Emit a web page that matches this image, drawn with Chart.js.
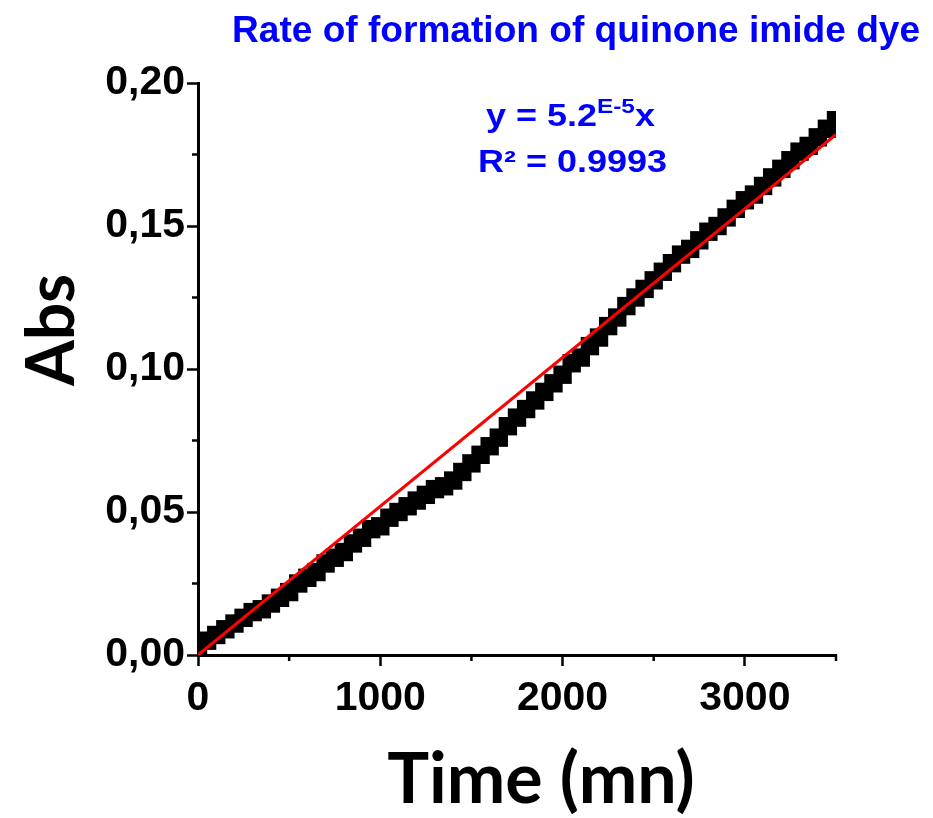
<!DOCTYPE html>
<html>
<head>
<meta charset="utf-8">
<script src="https://cdn.jsdelivr.net/npm/chart.js@4.4.0/dist/chart.umd.min.js"></script>
<style>
  html, body { margin: 0; padding: 0; background: #ffffff; }
  #wrap { width: 933px; height: 818px; }
</style>
</head>
<body>
<div id="wrap"><canvas id="c" width="933" height="818"></canvas></div>
<script>
// ---- data ----
const times = [0,50,100,150,200,250,300,350,400,450,500,550,600,650,700,750,800,850,900,950,
  1000,1050,1100,1150,1200,1250,1300,1350,1400,1450,1500,1550,1600,1650,1700,1750,1800,1850,1900,1950,
  2000,2050,2100,2150,2200,2250,2300,2350,2400,2450,2500,2550,2600,2650,2700,2750,2800,2850,2900,2950,
  3000,3050,3100,3150,3200,3250,3300,3350,3400,3450,3500];
const absorbance = [0.003,0.005,0.007,0.009,0.011,0.013,0.015,0.016,0.018,0.020,0.022,0.025,0.027,0.029,0.032,0.034,0.036,0.039,0.041,0.044,
  0.045,0.048,0.050,0.052,0.054,0.056,0.058,0.059,0.061,0.064,0.067,0.070,0.073,0.076,0.080,0.083,0.086,0.089,0.092,0.095,
  0.098,0.102,0.104,0.108,0.111,0.115,0.118,0.122,0.125,0.128,0.131,0.134,0.137,0.140,0.142,0.145,0.148,0.150,0.153,0.156,
  0.159,0.161,0.164,0.167,0.170,0.173,0.176,0.178,0.181,0.184,0.187];
const fitTimes = [0, 3500];
const fitAbs = [0, 0.182];

const xTickValues = [0, 1000, 2000, 3000];
const xTickLabels = ['0', '1000', '2000', '3000'];
const yTickValues = [0, 0.05, 0.10, 0.15, 0.20];
const yTickLabels = ['0,00', '0,05', '0,10', '0,15', '0,20'];
const xMinorTicks = [500, 1500, 2500, 3500];
const yMinorTicks = [0.025, 0.075, 0.125, 0.175];

const chartTitle = 'Rate of formation of quinone imide dye';
const xTitle = 'Time (mn)';
const yTitle = 'Abs';
const eqMain = 'y = 5.2';
const eqSup = 'E-5';
const eqTail = 'x';
const r2Text = 'R\u00B2 = 0.9993';

// ---- chart ----
const pts = times.map((t, i) => ({ x: t, y: absorbance[i] }));
const fitPts = fitTimes.map((t, i) => ({ x: t, y: fitAbs[i] }));

const BLUE = 'rgb(0,0,255)';
const ARIAL = '"Liberation Sans", Arial, sans-serif';

function drawScaled(ctx, text, x, y, sx, align) {
  ctx.save();
  ctx.translate(x, y);
  ctx.scale(sx, 1);
  ctx.textAlign = align || 'left';
  ctx.fillText(text, 0, 0);
  ctx.restore();
}

const extras = {
  id: 'extras',
  afterDraw(chart) {
    const ctx = chart.ctx;
    const a = chart.chartArea;
    const xs = chart.scales.x, ys = chart.scales.y;
    ctx.save();
    // minor ticks
    ctx.strokeStyle = '#000';
    ctx.lineWidth = 2.5;
    xMinorTicks.forEach(v => {
      const p = xs.getPixelForValue(v);
      ctx.beginPath(); ctx.moveTo(p, a.bottom); ctx.lineTo(p, a.bottom + 6); ctx.stroke();
    });
    yMinorTicks.forEach(v => {
      const p = ys.getPixelForValue(v);
      ctx.beginPath(); ctx.moveTo(a.left, p); ctx.lineTo(a.left - 6, p); ctx.stroke();
    });

    ctx.textBaseline = 'alphabetic';
    // title
    ctx.fillStyle = BLUE;
    ctx.font = 'bold 36px ' + ARIAL;
    drawScaled(ctx, chartTitle, 232, 42, 1.03, 'left');

    // equation
    const sx = 1.16;
    let x0 = 486;
    ctx.font = 'bold 31px ' + ARIAL;
    drawScaled(ctx, eqMain, x0, 126, sx, 'left');
    x0 += ctx.measureText(eqMain).width * sx;
    ctx.font = 'bold 21px ' + ARIAL;
    drawScaled(ctx, eqSup, x0, 113, sx, 'left');
    x0 += ctx.measureText(eqSup).width * sx;
    ctx.font = 'bold 31px ' + ARIAL;
    drawScaled(ctx, eqTail, x0, 126, sx, 'left');
    drawScaled(ctx, r2Text, 478, 172, sx, 'left');

    // axis titles
    ctx.fillStyle = '#000';
    ctx.font = 'bold 70px Lato, "Open Sans", sans-serif';
    ctx.textAlign = 'center';
    ctx.fillText(xTitle, 541, 803);
    ctx.save();
    ctx.translate(74, 330);
    ctx.rotate(-Math.PI / 2);
    ctx.font = 'bold 66px Lato, "Open Sans", sans-serif';
    ctx.textAlign = 'center';
    ctx.fillText(yTitle, 0, 0);
    ctx.restore();
    ctx.restore();
  }
};

const tickFont = { family: ARIAL, size: 41, weight: 'bold' };

new Chart(document.getElementById('c'), {
  type: 'scatter',
  data: {
    datasets: [
      {
        label: 'fit',
        data: fitPts,
        showLine: true,
        borderColor: 'rgb(255,0,0)',
        borderWidth: 3,
        pointRadius: 0,
        order: 0,
        clip: 0
      },
      {
        label: 'Abs',
        data: pts,
        pointStyle: 'rect',
        pointRadius: 13,
        pointBorderWidth: 0,
        backgroundColor: '#000',
        borderColor: '#000',
        showLine: false,
        order: 1,
        clip: 0
      }
    ]
  },
  options: {
    responsive: false,
    animation: false,
    devicePixelRatio: 1,
    layout: { padding: { left: 0, right: 97, top: 83, bottom: 0 } },
    plugins: { legend: { display: false }, tooltip: { enabled: false }, title: { display: false } },
    scales: {
      x: {
        type: 'linear',
        bounds: 'data',
        min: 0, max: 3500,
        afterFit(s) { s.height = 163; },
        afterBuildTicks(s) { s.ticks = xTickValues.map(v => ({ value: v })); },
        ticks: {
          autoSkip: false, maxRotation: 0,
          padding: 8, color: '#000', font: tickFont,
          callback: (v, i) => xTickLabels[i]
        },
        grid: { display: true, drawOnChartArea: false, drawTicks: true, tickLength: 11, tickWidth: 2.5, tickColor: '#000' },
        border: { display: true, color: '#000', width: 3 }
      },
      y: {
        type: 'linear',
        bounds: 'data',
        min: 0, max: 0.2,
        afterFit(s) { s.width = 198; },
        afterBuildTicks(s) { s.ticks = yTickValues.map(v => ({ value: v })); },
        ticks: {
          autoSkip: false,
          padding: 2, color: '#000', font: tickFont,
          callback: (v, i) => yTickLabels[i]
        },
        grid: { display: true, drawOnChartArea: false, drawTicks: true, tickLength: 11, tickWidth: 2.5, tickColor: '#000' },
        border: { display: true, color: '#000', width: 3 }
      }
    }
  },
  plugins: [extras]
});
</script>
</body>
</html>
